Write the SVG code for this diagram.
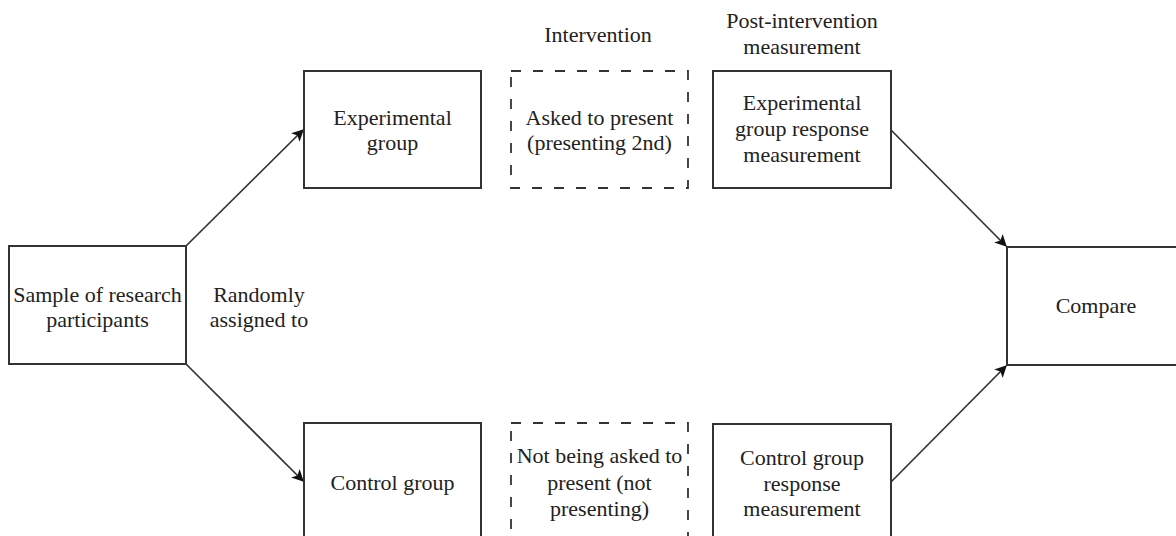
<svg xmlns="http://www.w3.org/2000/svg" width="1176" height="536" viewBox="0 0 1176 536">
<style>
.box{fill:#fff;stroke:#333;stroke-width:2}
.dash{fill:#fff;stroke:#333;stroke-width:1.8;stroke-dasharray:10 12}
.t{font-family:'Liberation Serif','DejaVu Serif',serif;font-size:22px;fill:#222;text-anchor:middle}
.edge{stroke:#333;stroke-width:1.7;fill:none;marker-end:url(#arr)}
</style>
<defs>
<marker id="arr" viewBox="0 0 10 10" refX="9" refY="5" markerWidth="12" markerHeight="12" markerUnits="userSpaceOnUse" orient="auto">
<path d="M0,0 L10,5 L0,10 L2.5,5 z" fill="#111"/>
</marker>
</defs>
<rect width="1176" height="536" fill="#fff"/>
<g id="labels">
<text class="t" x="598" y="42">Intervention</text>
<text class="t" x="802" y="28">Post-intervention</text>
<text class="t" x="802" y="54">measurement</text>
<text class="t" x="259" y="302">Randomly</text>
<text class="t" x="259" y="327">assigned to</text>
</g>
<g id="connectors">
<line class="edge" x1="186" y1="246" x2="303" y2="130"/>
<line class="edge" x1="186" y1="364" x2="303" y2="481"/>
<line class="edge" x1="891" y1="130" x2="1006" y2="246"/>
<line class="edge" x1="891" y1="482" x2="1006" y2="366"/>
</g>
<g id="sample">
<rect class="box" x="9" y="246" width="177" height="118"/>
<text class="t" x="97.5" y="302">Sample of research</text>
<text class="t" x="97.5" y="327">participants</text>
</g>
<g id="experimental">
<rect class="box" x="304" y="71" width="177" height="117"/>
<text class="t" x="392.5" y="125">Experimental</text>
<text class="t" x="392.5" y="150">group</text>
</g>
<g id="intervention-exp">
<rect class="dash" x="511" y="71" width="177" height="117"/>
<text class="t" x="599.5" y="125">Asked to present</text>
<text class="t" x="599.5" y="150">(presenting 2nd)</text>
</g>
<g id="measure-exp">
<rect class="box" x="713" y="71" width="178" height="117"/>
<text class="t" x="802" y="110">Experimental</text>
<text class="t" x="802" y="136">group response</text>
<text class="t" x="802" y="162">measurement</text>
</g>
<g id="compare">
<rect class="box" x="1007" y="247" width="178" height="118"/>
<text class="t" x="1096" y="313">Compare</text>
</g>
<g id="control">
<rect class="box" x="304" y="423" width="177" height="118"/>
<text class="t" x="392.5" y="490">Control group</text>
</g>
<g id="intervention-ctrl">
<rect class="dash" x="511" y="423" width="177" height="118"/>
<text class="t" x="599.5" y="463">Not being asked to</text>
<text class="t" x="599.5" y="490">present (not</text>
<text class="t" x="599.5" y="516">presenting)</text>
</g>
<g id="measure-ctrl">
<rect class="box" x="713" y="424" width="178" height="118"/>
<text class="t" x="802" y="465">Control group</text>
<text class="t" x="802" y="491">response</text>
<text class="t" x="802" y="516">measurement</text>
</g>
</svg>
